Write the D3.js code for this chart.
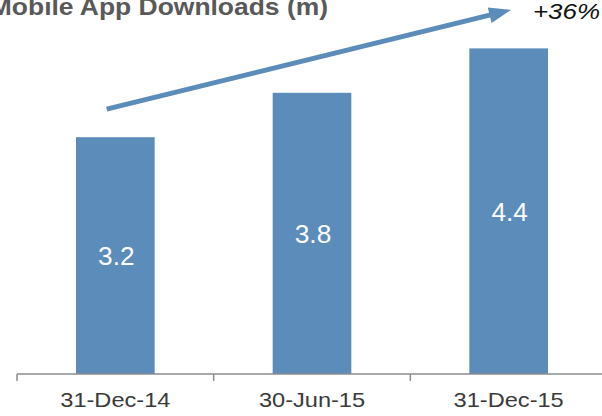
<!DOCTYPE html>
<html>
<head>
<meta charset="utf-8">
<script src="https://cdn.jsdelivr.net/npm/d3@7"></script>
<style>
body { margin:0; background:#fff; }
svg { display:block; font-family:"Liberation Sans", Arial, sans-serif; }
</style>
</head>
<body>
<svg id="chart"></svg>
<script>
var categories = ["31-Dec-14", "30-Jun-15", "31-Dec-15"];
var downloads = [3.2, 3.8, 4.4];
var growthLabel = "+36%";
var title = "Mobile App Downloads (m)";

var screen = {width:602, height:416};
var barColor = "#5b8cba";
//the original text looks stretched sideways
var stretch = 1.18;

var svg = d3.select("#chart")
    .attr("width", screen.width)
    .attr("height", screen.height)

//x scale: band with ticks drawn at band edges
var xScale = d3.scaleBand()
    .domain(categories)
    .range([17, 607])
    .paddingInner(0.6)
    .paddingOuter(0.3)

var yScale = d3.scaleLinear()
    .domain([0, 5])
    .range([374, 4])

var step = xScale.step();
var left = xScale(categories[0]) - step*0.3;

//bars
svg.append("g")
    .selectAll("rect")
    .data(downloads)
    .enter()
    .append("rect")
    .attr("x", function(d,i){ return xScale(categories[i]); })
    .attr("y", function(d){ return yScale(d); })
    .attr("width", xScale.bandwidth())
    .attr("height", function(d){ return yScale(0) - yScale(d); })
    .attr("fill", barColor)

//value labels
svg.append("g")
    .selectAll("text")
    .data(downloads)
    .enter()
    .append("text")
    .attr("transform", function(d,i){
        return "translate(" + (xScale(categories[i]) + xScale.bandwidth()/2 + 1) + "," +
            ((yScale(d) + yScale(0))/2 + 9.5) + ") scale(1.05,1)";
    })
    .attr("text-anchor", "middle")
    .attr("fill", "#ffffff")
    .style("font-size", "25px")
    .text(function(d){ return d.toFixed(1); })

//axis
var axis = d3.axisBottom(xScale).tickSize(0).tickPadding(19);
var axisG = svg.append("g")
    .attr("transform", "translate(0," + yScale(0) + ")")
    .call(axis)
axisG.select(".domain").remove();
axisG.selectAll("text")
    .style("font-size", "20px")
    .style("font-family", "Liberation Sans, Arial, sans-serif")
    .attr("transform", "scale(" + stretch + ",1)")
    .attr("fill", "#3a3a3a")

axisG.append("line")
    .attr("x1", left).attr("x2", screen.width)
    .attr("y1", 0).attr("y2", 0)
    .attr("stroke", "#8c8c8c").attr("stroke-width", 1.5)

axisG.selectAll(".edge")
    .data(d3.range(categories.length))
    .enter()
    .append("line")
    .classed("edge", true)
    .attr("x1", function(i){ return left + i*step; })
    .attr("x2", function(i){ return left + i*step; })
    .attr("y1", 0).attr("y2", 7)
    .attr("stroke", "#8c8c8c").attr("stroke-width", 1.5)

//growth arrow
var x0 = xScale(categories[0]) + xScale.bandwidth()*0.39;
var y0 = yScale(downloads[0] + 0.38);
var x1 = xScale(categories[2]) + xScale.bandwidth()*0.53;
var y1 = yScale(downloads[2] + 0.52);
var ang = Math.atan2(y1 - y0, x1 - x0);
var headLen = 22, headW = 8;
var bx = x1 - headLen*Math.cos(ang), by = y1 - headLen*Math.sin(ang);

svg.append("line")
    .attr("x1", x0).attr("y1", y0)
    .attr("x2", bx + 2*Math.cos(ang)).attr("y2", by + 2*Math.sin(ang))
    .attr("stroke", barColor)
    .attr("stroke-width", 5)

svg.append("path")
    .attr("d", "M" + x1 + "," + y1 +
        "L" + (bx - headW*Math.sin(ang)) + "," + (by + headW*Math.cos(ang)) +
        "L" + (bx + headW*Math.sin(ang)) + "," + (by - headW*Math.cos(ang)) + "Z")
    .attr("fill", barColor)

svg.append("text")
    .attr("transform", "translate(600,19) scale(" + stretch + ",1)")
    .attr("text-anchor", "end")
    .style("font-size", "22px")
    .style("font-style", "italic")
    .attr("fill", "#111")
    .text(growthLabel)

//title, partially cut off at the top left
svg.append("text")
    .attr("transform", "translate(328,15) scale(1.15,1)")
    .attr("text-anchor", "end")
    .style("font-size", "23px")
    .style("font-weight", "bold")
    .attr("fill", "#595959")
    .text(title)
</script>
</body>
</html>
